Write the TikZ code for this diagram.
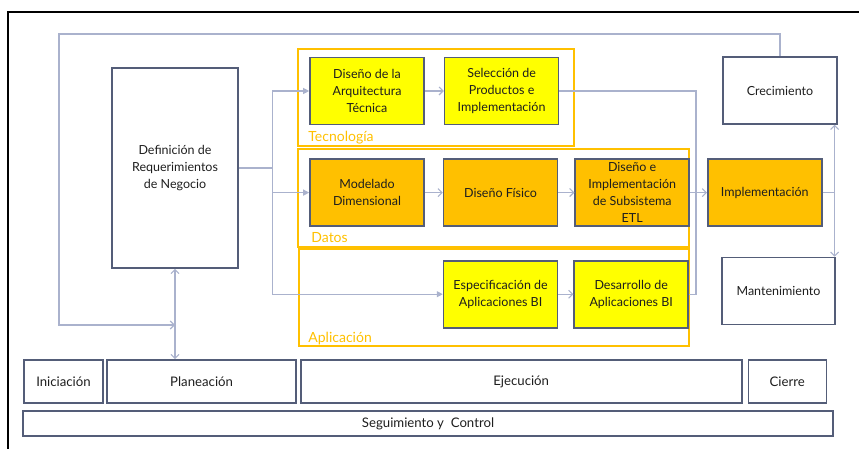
\documentclass[tikz,border=0pt]{standalone}
\usepackage{fontspec}
\setmainfont{Lato}
\usetikzlibrary{positioning}
\usetikzlibrary{arrows.meta}

\definecolor{borde}{RGB}{84,93,120}
\definecolor{linea}{RGB}{170,178,205}
\definecolor{amarillo}{RGB}{255,255,0}
\definecolor{naranja}{RGB}{255,192,0}
\definecolor{texto}{RGB}{30,30,30}

\begin{document}
\begin{tikzpicture}
                [
                    x=1pt, y=-1pt,
                    font=\fontsize{12.5}{16.8}\selectfont,
                    etapa/.style = {rectangle, draw=borde, line width=1.6pt, text=texto, minimum width=114pt, minimum height=67pt, align=center, inner sep=1pt},
                    tecno/.style = {etapa, fill=amarillo},
                    datos/.style = {etapa, fill=naranja},
                    fase/.style = {rectangle, draw=borde, line width=1.6pt, text=texto, minimum height=43pt, align=center, font=\fontsize{13.2}{16}\selectfont},
                    grupo/.style = {rectangle, draw=naranja, line width=1.6pt},
                    grupotxt/.style = {text=naranja, anchor=base west, inner sep=0pt, font=\fontsize{14}{16}\selectfont},
                    conector/.style = {draw=linea, line width=1.1pt},
                    flecha/.style = {conector, -{Straight Barb[length=4pt,width=8pt]}},
                    flechallena/.style = {conector, -{Triangle[length=6pt,width=6pt]}},
                    doble/.style = {conector, {Straight Barb[length=4pt,width=8pt]}-{Straight Barb[length=4pt,width=8pt]}}
                ]

                \useasboundingbox (0,0) rectangle (859,449);
                \draw[line width=2pt] (8,449) -- (8,12) -- (859,12);

                % grupos
                \node (tecG) [grupo, minimum width=276pt, minimum height=97pt] at (436,97.5) {};
                \node (datG) [grupo, minimum width=391pt, minimum height=98pt] at (493.5,198) {};
                \node (aplG) [grupo, minimum width=390pt, minimum height=97pt] at (494,297.5) {};
                \node (tecL) [grupotxt] at ([shift={(11,-5)}]tecG.south west) {Tecnología};
                \node (datL) [grupotxt] at ([shift={(14,-5)}]datG.south west) {Datos};
                \node (aplL) [grupotxt] at ([shift={(10,-4)}]aplG.south west) {Aplicación};

                % etapas
                \node (def) [etapa, minimum width=126pt, minimum height=200pt] at (175,168) {Definición de\\Requerimientos\\de Negocio};
                \node (arq) [tecno] at (367,91) {Diseño de la\\Arquitectura\\Técnica};
                \node (sel) [tecno, right=19pt of arq] {Selección de\\Productos e\\Implementación};
                \node (mod) [datos, below=33pt of arq] {Modelado\\Dimensional};
                \node (fis) [datos, right=18pt of mod] {Diseño Físico};
                \node (etl) [datos, right=16pt of fis] {Diseño e\\Implementación\\de Subsistema\\ETL};
                \node (impl) [datos, right=17pt of etl] {Implementación};
                \node (esp) [tecno, below=33pt of fis] {Especificación de\\Aplicaciones BI};
                \node (des) [tecno, right=15pt of esp] {Desarrollo de\\Aplicaciones BI};
                \node (crec) [etapa] at (780,90.5) {Crecimiento};
                \node (mant) [etapa, minimum width=113pt] at (778.5,291) {Mantenimiento};

                % fases
                \node (ini) [fase, minimum width=79pt] at (63.5,381.5) {Iniciación};
                \node (plan) [fase, minimum width=189pt, right=2.5pt of ini] {Planeación};
                \node (eje) [fase, minimum width=441pt, right=3pt of plan] {Ejecución};
                \node (cie) [fase, minimum width=78pt, right=5pt of eje] {Cierre};
                \node (seg) [fase, minimum width=810pt, minimum height=25pt] at (428,423.5) {Seguimiento y\ \ Control};

                % conectores
                \coordinate (reparto) at ([xshift=34pt]def.east);
                \draw[conector] (def.east) -- (reparto);
                \draw[flechallena] (reparto) |- (arq);
                \draw[flechallena] (reparto) |- (mod);
                \draw[flechallena] (reparto) |- (esp);
                \draw[flecha] (arq) -- (sel);
                \draw[flecha] (mod) -- (fis);
                \draw[flecha] (fis) -- (etl);
                \draw[flecha] (etl) -- (impl);
                \draw[flecha] (esp) -- (des);

                \coordinate (union) at ([xshift=7pt]des.east);
                \draw[conector] (sel.east) -| (union) -- (des.east);

                \coordinate (bifurca) at ([xshift=12pt]impl.east);
                \draw[conector] (impl.east) -- (bifurca);
                \draw[doble] (crec.south -| bifurca) -- (mant.north -| bifurca);

                \coordinate (esquina) at (59,34);
                \coordinate (retorno) at (def.south |- 0,325);
                \draw[flecha] (crec.north) |- (esquina) |- (retorno);
                \draw[doble] (def.south) -- (def.south |- plan.north);

            \end{tikzpicture}
\end{document}
